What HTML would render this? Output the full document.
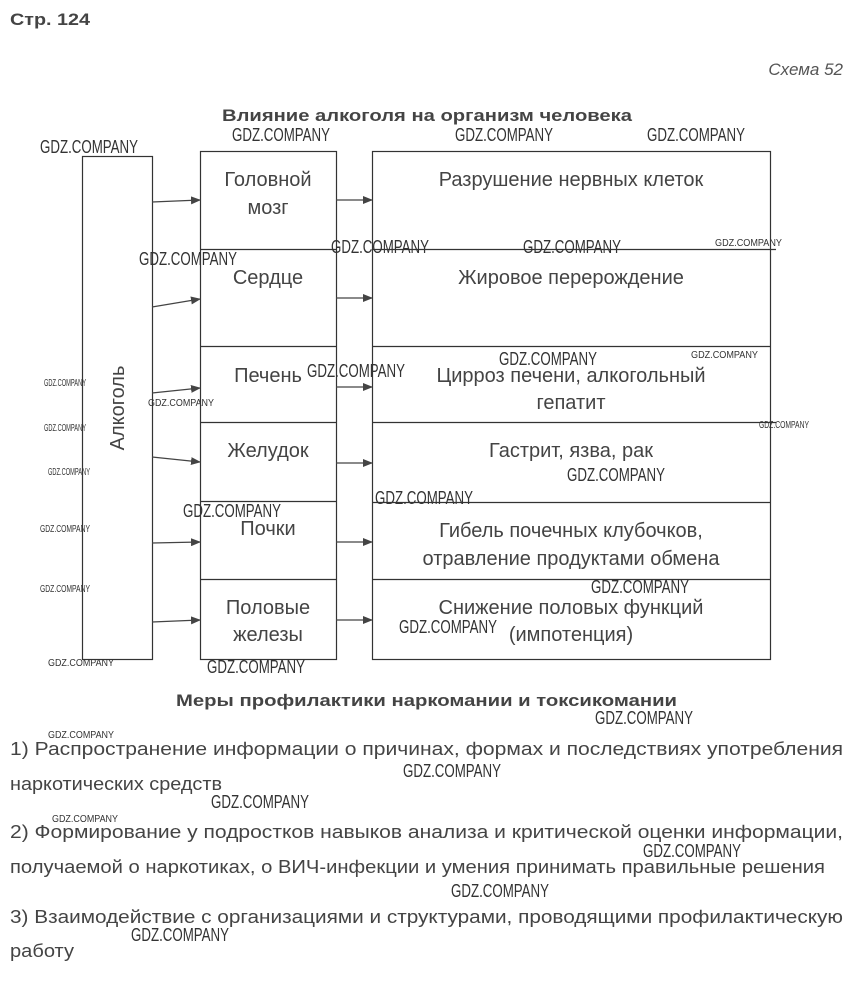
<!DOCTYPE html>
<html><head><meta charset="utf-8"><style>
html,body{margin:0;padding:0;background:#fff;}
svg{display:block;}
text{font-family:"Liberation Sans",sans-serif;}
.w{font-family:"Liberation Sans",sans-serif;fill:#333;}
</style></head><body>
<svg width="853" height="995" viewBox="0 0 853 995" xmlns="http://www.w3.org/2000/svg">
<defs><marker id="a" markerWidth="10" markerHeight="8" refX="9" refY="4" orient="auto" markerUnits="userSpaceOnUse"><path d="M0,0 L10,4 L0,8 z" fill="#444"/></marker></defs>
<text x="10" y="25" font-size="17" font-weight="bold" fill="#444" textLength="80" lengthAdjust="spacingAndGlyphs">Стр. 124</text>
<text x="843" y="75" font-size="17" font-style="italic" fill="#555" text-anchor="end">Схема 52</text>
<text x="222" y="121" font-size="17" font-weight="bold" fill="#444" textLength="410" lengthAdjust="spacingAndGlyphs">Влияние алкоголя на организм человека</text>
<g stroke="#333" stroke-width="1.2" fill="none">
<rect x="82.5" y="156.5" width="70" height="503"/>
<rect x="200.5" y="151.5" width="136" height="508"/>
<rect x="372.5" y="151.5" width="398" height="508"/>
<path d="M200 249.5H336M200 346.5H336M200 422.5H336M200 501.5H336M200 579.5H336"/>
<path d="M372 249.5H776M372 346.5H770M372 422.5H776M372 502.5H770M372 579.5H770"/>
</g>
<g stroke="#444" stroke-width="1.3" marker-end="url(#a)">
<line x1="152" y1="202" x2="200" y2="200"/>
<line x1="152" y1="307" x2="200" y2="299"/>
<line x1="152" y1="393" x2="200" y2="388"/>
<line x1="152" y1="457" x2="200" y2="462"/>
<line x1="152" y1="543" x2="200" y2="542"/>
<line x1="152" y1="622" x2="200" y2="620"/>
<line x1="336" y1="200" x2="372" y2="200"/>
<line x1="336" y1="298" x2="372" y2="298"/>
<line x1="336" y1="387" x2="372" y2="387"/>
<line x1="336" y1="463" x2="372" y2="463"/>
<line x1="336" y1="542" x2="372" y2="542"/>
<line x1="336" y1="620" x2="372" y2="620"/>
</g>
<g font-size="20" fill="#444" text-anchor="middle">
<text x="268" y="186">Головной</text><text x="268" y="214">мозг</text>
<text x="268" y="284">Сердце</text>
<text x="268" y="382">Печень</text>
<text x="268" y="457">Желудок</text>
<text x="268" y="535">Почки</text>
<text x="268" y="614">Половые</text><text x="268" y="641">железы</text>
<text x="571" y="186">Разрушение нервных клеток</text>
<text x="571" y="284">Жировое перерождение</text>
<text x="571" y="382">Цирроз печени, алкогольный</text><text x="571" y="409">гепатит</text>
<text x="571" y="457">Гастрит, язва, рак</text>
<text x="571" y="537">Гибель почечных клубочков,</text><text x="571" y="565">отравление продуктами обмена</text>
<text x="571" y="614">Снижение половых функций</text><text x="571" y="641">(импотенция)</text>
<text transform="translate(124,408) rotate(-90)">Алкоголь</text>
</g>
<text x="176" y="706" font-size="17" font-weight="bold" fill="#444" textLength="501" lengthAdjust="spacingAndGlyphs">Меры профилактики наркомании и токсикомании</text>
<g font-size="18" fill="#444">
<text x="10" y="755" textLength="833" lengthAdjust="spacingAndGlyphs">1) Распространение информации о причинах, формах и последствиях употребления</text>
<text x="10" y="790" textLength="212" lengthAdjust="spacingAndGlyphs">наркотических средств</text>
<text x="10" y="838" textLength="833" lengthAdjust="spacingAndGlyphs">2) Формирование у подростков навыков анализа и критической оценки информации,</text>
<text x="10" y="873" textLength="815" lengthAdjust="spacingAndGlyphs">получаемой о наркотиках, о ВИЧ-инфекции и умения принимать правильные решения</text>
<text x="10" y="923" textLength="833" lengthAdjust="spacingAndGlyphs">3) Взаимодействие с организациями и структурами, проводящими профилактическую</text>
<text x="10" y="957" textLength="64" lengthAdjust="spacingAndGlyphs">работу</text>
</g>
<g class="w" font-size="18" lengthAdjust="spacingAndGlyphs">
<text x="40" y="153" textLength="98" lengthAdjust="spacingAndGlyphs">GDZ.COMPANY</text>
<text x="232" y="141" textLength="98" lengthAdjust="spacingAndGlyphs">GDZ.COMPANY</text>
<text x="455" y="141" textLength="98" lengthAdjust="spacingAndGlyphs">GDZ.COMPANY</text>
<text x="647" y="141" textLength="98" lengthAdjust="spacingAndGlyphs">GDZ.COMPANY</text>
<text x="139" y="265" textLength="98" lengthAdjust="spacingAndGlyphs">GDZ.COMPANY</text>
<text x="331" y="253" textLength="98" lengthAdjust="spacingAndGlyphs">GDZ.COMPANY</text>
<text x="523" y="253" textLength="98" lengthAdjust="spacingAndGlyphs">GDZ.COMPANY</text>
<text x="307" y="377" textLength="98" lengthAdjust="spacingAndGlyphs">GDZ.COMPANY</text>
<text x="499" y="365" textLength="98" lengthAdjust="spacingAndGlyphs">GDZ.COMPANY</text>
<text x="567" y="481" textLength="98" lengthAdjust="spacingAndGlyphs">GDZ.COMPANY</text>
<text x="375" y="504" textLength="98" lengthAdjust="spacingAndGlyphs">GDZ.COMPANY</text>
<text x="183" y="517" textLength="98" lengthAdjust="spacingAndGlyphs">GDZ.COMPANY</text>
<text x="591" y="593" textLength="98" lengthAdjust="spacingAndGlyphs">GDZ.COMPANY</text>
<text x="399" y="633" textLength="98" lengthAdjust="spacingAndGlyphs">GDZ.COMPANY</text>
<text x="207" y="673" textLength="98" lengthAdjust="spacingAndGlyphs">GDZ.COMPANY</text>
<text x="595" y="724" textLength="98" lengthAdjust="spacingAndGlyphs">GDZ.COMPANY</text>
<text x="403" y="777" textLength="98" lengthAdjust="spacingAndGlyphs">GDZ.COMPANY</text>
<text x="211" y="808" textLength="98" lengthAdjust="spacingAndGlyphs">GDZ.COMPANY</text>
<text x="643" y="857" textLength="98" lengthAdjust="spacingAndGlyphs">GDZ.COMPANY</text>
<text x="451" y="897" textLength="98" lengthAdjust="spacingAndGlyphs">GDZ.COMPANY</text>
<text x="131" y="941" textLength="98" lengthAdjust="spacingAndGlyphs">GDZ.COMPANY</text>
</g>
<g class="w" font-size="10">
<text x="715" y="246" textLength="67" lengthAdjust="spacingAndGlyphs">GDZ.COMPANY</text>
<text x="691" y="358" textLength="67" lengthAdjust="spacingAndGlyphs">GDZ.COMPANY</text>
<text x="759" y="428" textLength="50" lengthAdjust="spacingAndGlyphs">GDZ.COMPANY</text>
<text x="148" y="406" textLength="66" lengthAdjust="spacingAndGlyphs">GDZ.COMPANY</text>
<text x="44" y="386" textLength="42" lengthAdjust="spacingAndGlyphs">GDZ.COMPANY</text>
<text x="44" y="431" textLength="42" lengthAdjust="spacingAndGlyphs">GDZ.COMPANY</text>
<text x="48" y="475" textLength="42" lengthAdjust="spacingAndGlyphs">GDZ.COMPANY</text>
<text x="40" y="532" textLength="50" lengthAdjust="spacingAndGlyphs">GDZ.COMPANY</text>
<text x="40" y="592" textLength="50" lengthAdjust="spacingAndGlyphs">GDZ.COMPANY</text>
<text x="48" y="666" textLength="66" lengthAdjust="spacingAndGlyphs">GDZ.COMPANY</text>
<text x="48" y="738" textLength="66" lengthAdjust="spacingAndGlyphs">GDZ.COMPANY</text>
<text x="52" y="822" textLength="66" lengthAdjust="spacingAndGlyphs">GDZ.COMPANY</text>
</g>
</svg>
</body></html>
